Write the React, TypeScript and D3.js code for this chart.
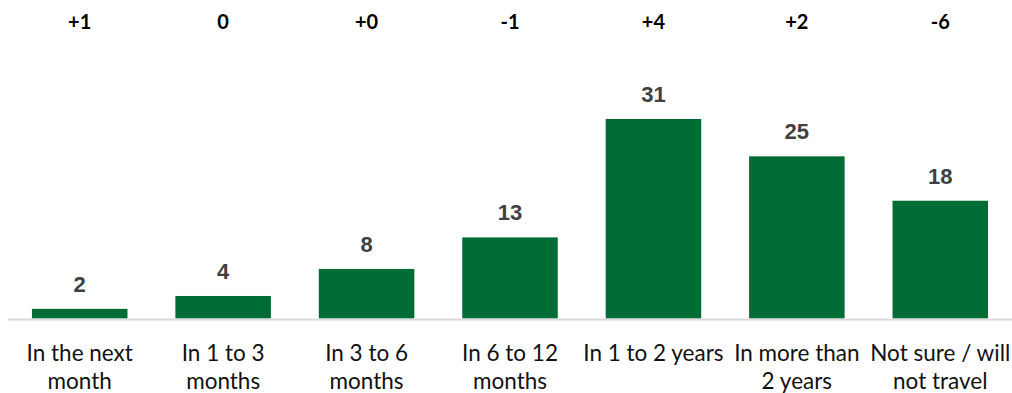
import React from "react";
import * as d3 from "d3";

const categories: string[][] = [
  ["In the next", "month"],
  ["In 1 to 3", "months"],
  ["In 3 to 6", "months"],
  ["In 6 to 12", "months"],
  ["In 1 to 2 years"],
  ["In more than", "2 years"],
  ["Not sure / will", "not travel"],
];
const values: number[] = [1.5, 3.5, 7.7, 12.6, 31, 25.2, 18.3];
const changes: string[] = ["+1", "0", "+0", "-1", "+4", "+2", "-6"];

const W = 1012;
const H = 393;

export default function App() {
  const keys = categories.map((_, i) => String(i));
  const x = d3.scaleBand<string>().domain(keys).range([8, 1012]).paddingInner(0.334).paddingOuter(0.167);
  const y = d3.scaleLinear().domain([0, 31]).range([318.5, 119]);
  const catFont = "Lato, 'Open Sans', sans-serif";
  return (
    <svg width={W} height={H} style={{ position: "absolute", left: 0, top: 0, background: "#fff" }}>
      {values.map((v, i) => {
        const x0 = x(String(i))!;
        const cx = x0 + x.bandwidth() / 2;
        return (
          <g key={i}>
            <rect x={x0} y={y(v)} width={x.bandwidth()} height={y(0) - y(v)} fill="#006c35" />
            <text x={cx} y={y(v) - 17} textAnchor="middle" fontFamily="'Liberation Sans', Arial, sans-serif" fontWeight="bold" fontSize={22} fill="#404040">
              {Math.round(v)}
            </text>
            <text x={cx} y={28.5} textAnchor="middle" fontFamily={catFont} fontWeight="bold" fontSize={20} fill="#000">
              {changes[i]}
            </text>
            {categories[i].map((line, j) => (
              <text key={j} x={cx} y={361 + j * 28} textAnchor="middle" fontFamily={catFont} fontSize={22.5} fill="#111">
                {line}
              </text>
            ))}
          </g>
        );
      })}
      <line x1={8} x2={1012} y1={319.5} y2={319.5} stroke="#d9d9d9" strokeWidth={2} />
    </svg>
  );
}
